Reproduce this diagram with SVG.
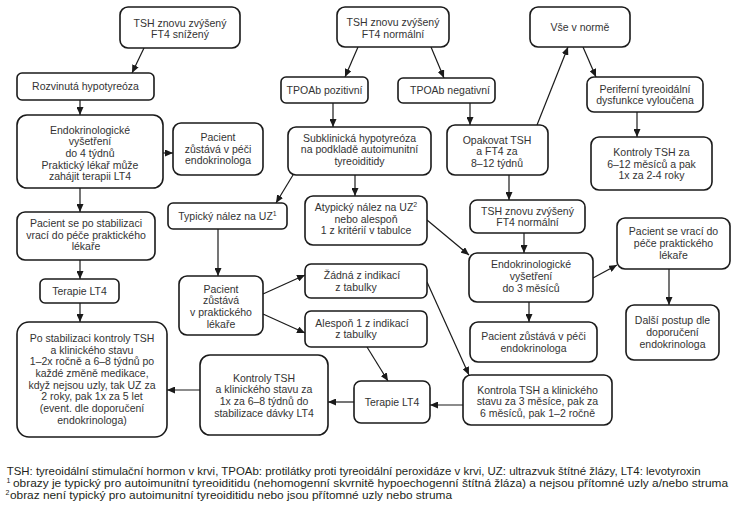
<svg xmlns="http://www.w3.org/2000/svg" width="740" height="510" viewBox="0 0 740 510">
<style>
.b{fill:#fff;stroke:#1a1a1a;stroke-width:1.6}
.t{font-family:"Liberation Sans",Arial,sans-serif;font-size:10.5px;fill:#333;text-anchor:middle}
.c line{stroke:#1a1a1a;stroke-width:1.2;marker-end:url(#ah)}
.f{font-family:"Liberation Sans",Arial,sans-serif;font-size:11px;fill:#231f20}
.s{font-family:"Liberation Sans",Arial,sans-serif;font-size:7px;fill:#231f20}
</style>
<defs>
<marker id="ah" markerUnits="userSpaceOnUse" markerWidth="8" markerHeight="7" refX="8" refY="3.5" orient="auto">
<path d="M0,0 L8,3.5 L0,7 z" fill="#1a1a1a"/>
</marker>
</defs>
<rect width="740" height="510" fill="#fff"/>
<g class="c">
<line x1="144" y1="48" x2="132" y2="73"/>
<line x1="80" y1="100" x2="80" y2="115"/>
<line x1="163" y1="153" x2="173" y2="153"/>
<line x1="80" y1="188" x2="80" y2="212"/>
<line x1="80" y1="260" x2="80" y2="279"/>
<line x1="80" y1="303" x2="80" y2="322"/>
<line x1="358" y1="47" x2="345" y2="77"/>
<line x1="431" y1="47" x2="444" y2="78"/>
<line x1="333" y1="103" x2="333" y2="127"/>
<line x1="470" y1="103" x2="470" y2="125"/>
<line x1="355" y1="175" x2="355" y2="196"/>
<line x1="293" y1="175" x2="276" y2="203"/>
<line x1="537" y1="125" x2="568" y2="47"/>
<line x1="583" y1="47" x2="596" y2="77"/>
<line x1="637" y1="112" x2="637" y2="137"/>
<line x1="509" y1="175" x2="509" y2="200"/>
<line x1="524" y1="233" x2="524" y2="253"/>
<line x1="427" y1="220" x2="469" y2="255"/>
<line x1="593" y1="278" x2="617" y2="265"/>
<line x1="669" y1="269" x2="669" y2="305"/>
<line x1="529" y1="302" x2="529" y2="322"/>
<line x1="218" y1="229" x2="218" y2="276"/>
<line x1="263" y1="294" x2="305" y2="275"/>
<line x1="263" y1="314" x2="305" y2="333"/>
<line x1="427" y1="282" x2="469" y2="375"/>
<line x1="367" y1="347" x2="388" y2="381"/>
<line x1="463" y1="405" x2="430" y2="405"/>
<line x1="354" y1="402" x2="328" y2="402"/>
<line x1="200" y1="390" x2="167" y2="390"/>
</g>
<g id="n1"><rect class="b" x="120" y="7" width="120" height="41" rx="8"/><text class="t"><tspan x="180" y="26.5">TSH znovu zvýšený</tspan><tspan x="180" y="38.2">FT4 snížený</tspan></text></g>
<g id="n2"><rect class="b" x="17" y="73" width="137" height="27" rx="5"/><text class="t"><tspan x="85.5" y="90.3">Rozvinutá hypotyreóza</tspan></text></g>
<g id="n3"><rect class="b" x="17" y="115" width="146" height="73" rx="10"/><text class="t"><tspan x="90" y="133.5">Endokrinologické</tspan><tspan x="90" y="145.2">vyšetření</tspan><tspan x="90" y="156.9">do 4 týdnů</tspan><tspan x="90" y="168.6">Praktický lékař může</tspan><tspan x="90" y="180.3">zahájit terapii LT4</tspan></text></g>
<g id="n4"><rect class="b" x="173" y="123" width="90" height="52" rx="8"/><text class="t"><tspan x="218" y="141">Pacient</tspan><tspan x="218" y="152.7">zůstává v péči</tspan><tspan x="218" y="164.4">endokrinologa</tspan></text></g>
<g id="n5"><rect class="b" x="337" y="7" width="112" height="40" rx="8"/><text class="t"><tspan x="393" y="26">TSH znovu zvýšený</tspan><tspan x="393" y="37.7">FT4 normální</tspan></text></g>
<g id="n6"><rect class="b" x="281" y="77" width="87" height="26" rx="5"/><text class="t"><tspan x="324.5" y="93.8">TPOAb pozitivní</tspan></text></g>
<g id="n7"><rect class="b" x="398" y="78" width="97" height="25" rx="5"/><text class="t"><tspan x="450" y="94.3">TPOAb negativní</tspan></text></g>
<g id="n8"><rect class="b" x="288" y="127" width="143" height="48" rx="8"/><text class="t"><tspan x="359.5" y="141.8">Subklinická hypotyreóza</tspan><tspan x="359.5" y="153.3">na podkladě autoimunitní</tspan><tspan x="359.5" y="164.8">tyreoiditidy</tspan></text></g>
<g id="n9"><rect class="b" x="447" y="125" width="101" height="50" rx="8"/><text class="t"><tspan x="497" y="143.8">Opakovat TSH</tspan><tspan x="497" y="155.3">a FT4 za</tspan><tspan x="497" y="166.8">8–12 týdnů</tspan></text></g>
<g id="n10"><rect class="b" x="530" y="7" width="100" height="40" rx="8"/><text class="t"><tspan x="580" y="30.8">Vše v normě</tspan></text></g>
<g id="n11"><rect class="b" x="587" y="77" width="116" height="35" rx="7"/><text class="t"><tspan x="645" y="92.5">Periferní tyreoidální</tspan><tspan x="645" y="104.2">dysfunkce vyloučena</tspan></text></g>
<g id="n12"><rect class="b" x="591" y="137" width="121" height="53" rx="8"/><text class="t"><tspan x="651.5" y="155.8">Kontroly TSH za</tspan><tspan x="651.5" y="167.5">6–12 měsíců a pak</tspan><tspan x="651.5" y="179.2">1x za 2-4 roky</tspan></text></g>
<g id="n13"><rect class="b" x="168" y="203" width="119" height="26" rx="5"/><text class="t"><tspan x="227.5" y="220">Typický nález na UZ<tspan font-size="7" dy="-4">1</tspan></tspan></text></g>
<g id="n14"><rect class="b" x="305" y="196" width="122" height="49" rx="8"/><text class="t"><tspan x="366" y="211">Atypický nález na UZ<tspan font-size="7" dy="-4">2</tspan></tspan><tspan x="366" y="222.7">nebo alespoň</tspan><tspan x="366" y="234.4">1 z kritérií v tabulce</tspan></text></g>
<g id="n15"><rect class="b" x="470" y="200" width="115" height="33" rx="7"/><text class="t"><tspan x="527.5" y="214.5">TSH znovu zvýšený</tspan><tspan x="527.5" y="226.2">FT4 normální</tspan></text></g>
<g id="n16"><rect class="b" x="469" y="253" width="124" height="49" rx="8"/><text class="t"><tspan x="531" y="268.3">Endokrinologické</tspan><tspan x="531" y="280">vyšetření</tspan><tspan x="531" y="291.7">do 3 měsíců</tspan></text></g>
<g id="n17"><rect class="b" x="617" y="218" width="113" height="51" rx="8"/><text class="t"><tspan x="673.5" y="235.3">Pacient se vrací do</tspan><tspan x="673.5" y="247">péče praktického</tspan><tspan x="673.5" y="258.7">lékaře</tspan></text></g>
<g id="n18"><rect class="b" x="626" y="305" width="93" height="55" rx="8"/><text class="t"><tspan x="672.5" y="324.3">Další postup dle</tspan><tspan x="672.5" y="336">doporučení</tspan><tspan x="672.5" y="347.7">endokrinologa</tspan></text></g>
<g id="n19"><rect class="b" x="470" y="322" width="127" height="40" rx="8"/><text class="t"><tspan x="533.5" y="340">Pacient zůstává v péči</tspan><tspan x="533.5" y="351.7">endokrinologa</tspan></text></g>
<g id="n20"><rect class="b" x="463" y="375" width="149" height="50" rx="8"/><text class="t"><tspan x="537.5" y="393.5">Kontrola TSH a klinického</tspan><tspan x="537.5" y="405.2">stavu za 3 měsíce, pak za</tspan><tspan x="537.5" y="416.9">6 měsíců, pak 1–2 ročně</tspan></text></g>
<g id="n21"><rect class="b" x="179" y="276" width="84" height="59" rx="8"/><text class="t"><tspan x="221" y="292.5">Pacient</tspan><tspan x="221" y="304.2">zůstává</tspan><tspan x="221" y="315.9">v praktického</tspan><tspan x="221" y="327.6">lékaře</tspan></text></g>
<g id="n22"><rect class="b" x="305" y="264" width="122" height="34" rx="6"/><text class="t"><tspan x="362" y="279">Žádná z indikací</tspan><tspan x="356" y="290.7">z tabulky</tspan></text></g>
<g id="n23"><rect class="b" x="305" y="311" width="122" height="36" rx="6"/><text class="t"><tspan x="362" y="326.5">Alespoň 1 z indikací</tspan><tspan x="356" y="338.2">z tabulky</tspan></text></g>
<g id="n24"><rect class="b" x="354" y="381" width="76" height="42" rx="7"/><text class="t"><tspan x="392" y="405.7">Terapie LT4</tspan></text></g>
<g id="n25"><rect class="b" x="200" y="355" width="128" height="80" rx="10"/><text class="t"><tspan x="264" y="381.5">Kontroly TSH</tspan><tspan x="264" y="393.2">a klinického stavu za</tspan><tspan x="264" y="404.9">1x za 6–8 týdnů do</tspan><tspan x="264" y="416.6">stabilizace dávky LT4</tspan></text></g>
<g id="n26"><rect class="b" x="17" y="212" width="138" height="48" rx="8"/><text class="t"><tspan x="86" y="227">Pacient se po stabilizaci</tspan><tspan x="86" y="238.7">vrací do péče praktického</tspan><tspan x="86" y="250.4">lékaře</tspan></text></g>
<g id="n27"><rect class="b" x="40" y="279" width="79" height="24" rx="5"/><text class="t"><tspan x="79.5" y="294.8">Terapie LT4</tspan></text></g>
<g id="n28"><rect class="b" x="17" y="322" width="150" height="115" rx="12"/><text class="t"><tspan x="92" y="341.8">Po stabilizaci kontroly TSH</tspan><tspan x="92" y="353.5">a klinického stavu</tspan><tspan x="92" y="365.2">1–2x ročně a 6–8 týdnů po</tspan><tspan x="92" y="376.9">každé změně medikace,</tspan><tspan x="92" y="388.6">když nejsou uzly, tak UZ za</tspan><tspan x="92" y="400.3">2 roky, pak 1x za 5 let</tspan><tspan x="92" y="412">(event. dle doporučení</tspan><tspan x="92" y="423.7">endokrinologa)</tspan></text></g>
<g id="legend">
<text class="f" x="6.7" y="474.5" textLength="694" lengthAdjust="spacingAndGlyphs">TSH: tyreoidální stimulační hormon v krvi, TPOAb: protilátky proti tyreoidální peroxidáze v krvi, UZ: ultrazvuk štítné žlázy, LT4: levotyroxin</text>
<text class="s" x="6.5" y="483">1</text>
<text class="f" x="13" y="486.5" textLength="715" lengthAdjust="spacingAndGlyphs">obrazy je typický pro autoimunitní tyreoiditidu (nehomogenní skvrnitě hypoechogenní štítná žláza) a nejsou přítomné uzly a/nebo struma</text>
<text class="s" x="5.5" y="495">2</text>
<text class="f" x="10" y="498.5" textLength="442" lengthAdjust="spacingAndGlyphs">obraz není typický pro autoimunitní tyreoiditidu nebo jsou přítomné uzly nebo struma</text>
</g>
</svg>
